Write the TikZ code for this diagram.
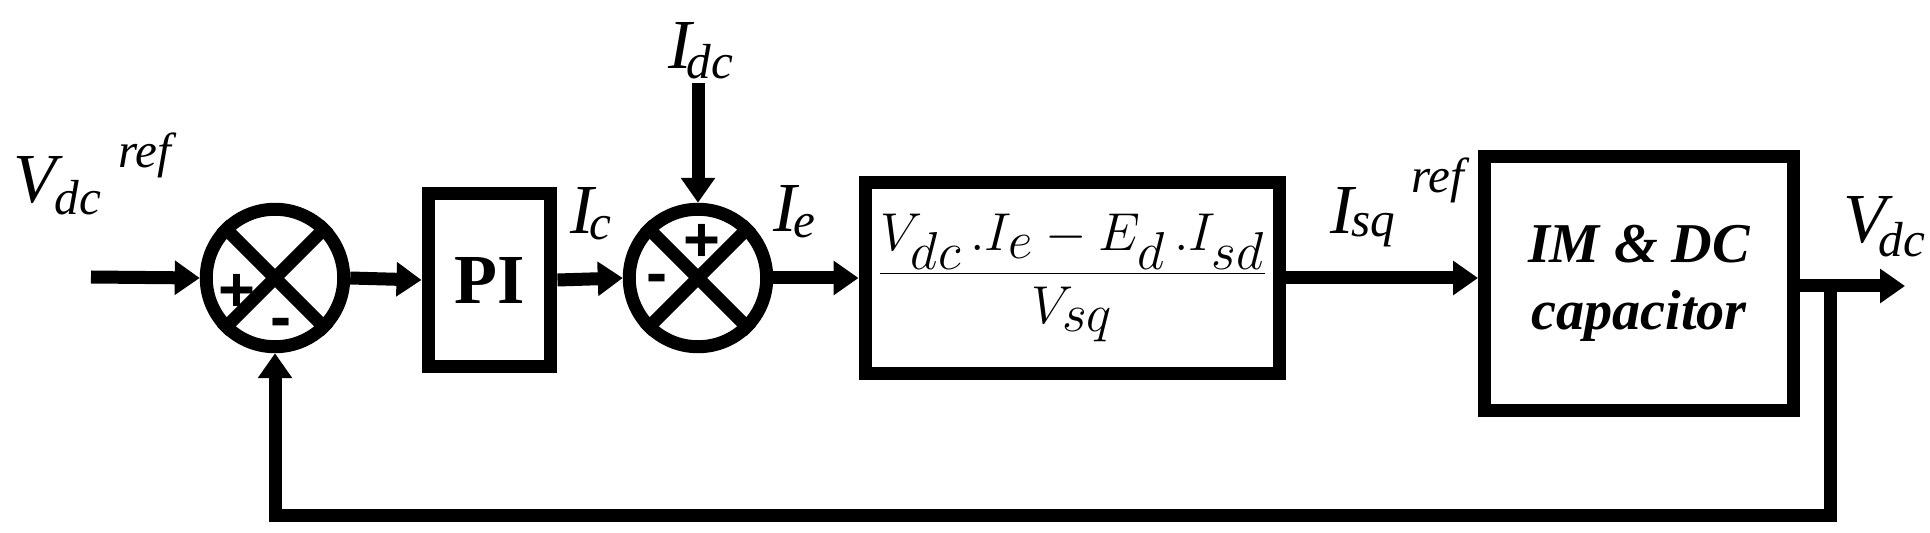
\documentclass[tikz,border=0pt]{standalone}
\usepackage{fontspec}
\setmainfont{Liberation Serif}
\setsansfont{Liberation Sans}
\usetikzlibrary{arrows.meta}
\begin{document}
\begin{tikzpicture}[x=0.02cm,y=-0.02cm,
  wire/.style={line width=7.4pt},
  arr/.style={wire,-{Triangle[length=0.5cm,width=0.66cm]}},
  blockbox/.style={draw,line width=7.4pt,inner sep=0pt},
  sumnode/.style={draw,circle,line width=7.4pt,minimum size=2.75cm,inner sep=0pt},
  lbl/.style={font=\fontsize{40}{40}\selectfont\itshape,inner sep=0pt},
  sub/.style={font=\fontsize{28}{28}\selectfont\itshape,inner sep=0pt},
  sgn/.style={font=\fontsize{36}{36}\selectfont\bfseries\sffamily,inner sep=0pt}]
\useasboundingbox (0,0) rectangle (1930,533);
\coordinate (in) at (91,277);
\node[sumnode] (s1) at (275,278) {};
\draw[wire] (s1.45) -- (s1.225) (s1.135) -- (s1.-45);
\node[sgn] at (237,293) {+};
\node[sgn] at (281,328) {-};
\node[blockbox,minimum width=2.46cm,minimum height=3.47cm] (pi) at (489.5,280) {};
\node[font=\fontsize{40}{40}\selectfont\bfseries] at (pi) {PI};
\node[sumnode] (s2) at (698,278) {};
\draw[wire] (s2.45) -- (s2.225) (s2.135) -- (s2.-45);
\node[sgn] at (702,243) {+};
\node[sgn] at (657,284) {-};
\node[blockbox,minimum width=8.3cm,minimum height=3.84cm] (f) at (1072.5,278) {};
\node at (f) {\scalebox{1.22}{\fontsize{38}{38}\selectfont$\displaystyle\frac{V_{dc}\,.I_e-E_d\,.I_{sd}}{V_{sq}}$}};
\node[blockbox,minimum width=6.18cm,minimum height=5.1cm] (p) at (1639,283.5) {};
\node[align=center,font=\fontsize{32}{38}\selectfont\bfseries\itshape] at (p) {IM \& DC\\capacitor};
\coordinate (out) at (1905,286);
\coordinate (br) at (1830,286);
\coordinate (bl) at (1830,515);
\draw[arr] (in) -- (s1.west);
\draw[arr] (s1.east) -- (pi.west);
\draw[arr] (pi.east) -- (s2.west);
\draw[arr] (s2.east) -- (f.west);
\draw[arr] (f.east) -- (f.east -| p.west);
\draw[arr] (p.east|-out) -- (out);
\coordinate (idc) at (698,83);
\draw[arr] (idc) -- (s2.north);
\draw[arr] (br) -- (bl) -| (s1.south);
\node[lbl] at (35,180) {V};
\node[sub] at (78,198) {dc};
\node[sub] at (145,155) {ref};
\node[lbl] at (680,45) {I};
\node[sub] at (710,62) {dc};
\node[lbl] at (582,210) {I};
\node[sub] at (600,228) {c};
\node[lbl] at (785,208) {I};
\node[sub] at (804,226) {e};
\node[lbl] at (1342,210) {I};
\node[sub] at (1373,230) {sq};
\node[sub] at (1438,180) {ref};
\node[lbl] at (1865,220) {V};
\node[sub] at (1902,240) {dc};
\end{tikzpicture}
\end{document}
